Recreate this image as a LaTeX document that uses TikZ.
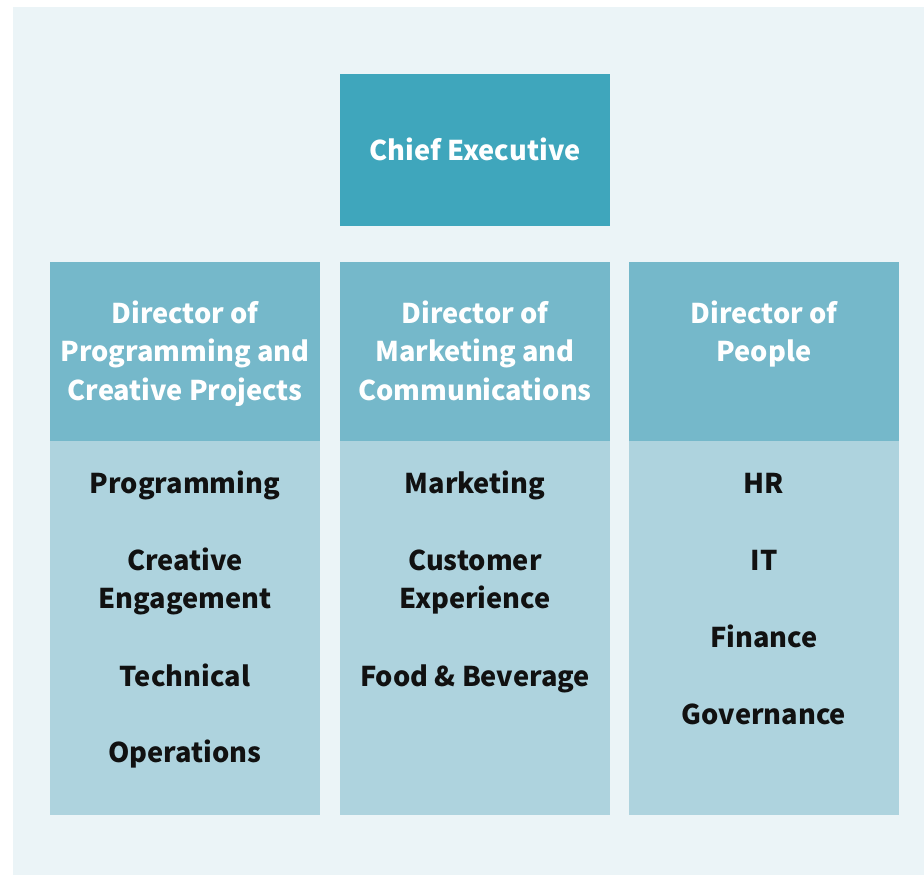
\documentclass[tikz,border=0pt]{standalone}
\usepackage{fontspec}
\setmainfont{Noto Sans CJK SC}
\definecolor{bgpanel}{HTML}{EBF4F7}
\definecolor{chiefc}{HTML}{3FA6BC}
\definecolor{headc}{HTML}{75B8CA}
\definecolor{bodyc}{HTML}{AED3DE}
\definecolor{txtdark}{HTML}{111111}
\begin{document}
\begin{tikzpicture}[x=1pt,y=-1pt,
  boxbase/.style={draw=none,inner sep=0pt,minimum width=270pt,anchor=north west},
  chiefbox/.style={boxbase,fill=chiefc,minimum height=152pt},
  headbox/.style={boxbase,fill=headc,minimum height=179pt},
  bodybox/.style={boxbase,fill=bodyc,minimum height=374pt},
  whitetxt/.style={anchor=base,inner sep=0pt,text=white,font=\fontsize{27.2}{32}\selectfont\bfseries},
  darktxt/.style={anchor=base,inner sep=0pt,text=txtdark,font=\fontsize{27.2}{32}\selectfont\bfseries}]
\useasboundingbox (0,0) rectangle (924,875);
\fill[white] (0,0) rectangle (924,875);
\fill[bgpanel] (13,7) rectangle (924,875);
% boxes
\node[chiefbox] (chief) at (340,74) {};
\node[headbox] (h1) at (50,262) {};
\node[headbox] (h2) at (340,262) {};
\node[headbox] (h3) at (629,262) {};
\node[bodybox] (b1) at (50,441) {};
\node[bodybox] (b2) at (340,441) {};
\node[bodybox] (b3) at (629,441) {};
% chief
\node[whitetxt] (tchief) at (475,160) {Chief Executive};
% headers
\node[whitetxt] (t1a) at (185,323) {Director of};
\node[whitetxt] (t1b) at (185,361.5) {Programming and};
\node[whitetxt] (t1c) at (185,400) {Creative Projects};
\node[whitetxt] (t2a) at (475,323) {Director of};
\node[whitetxt] (t2b) at (475,361.5) {Marketing and};
\node[whitetxt] (t2c) at (475,400) {Communications};
\node[whitetxt] (t3a) at (764,323) {Director of};
\node[whitetxt] (t3b) at (764,361.5) {People};
% column 1
\node[darktxt] (p1) at (185,493) {Programming};
\node[darktxt] (p2) at (185,570) {Creative};
\node[darktxt] (p3) at (185,608.5) {Engagement};
\node[darktxt] (p4) at (185,686) {Technical};
\node[darktxt] (p5) at (185,762) {Operations};
% column 2
\node[darktxt] (m1) at (475,493) {Marketing};
\node[darktxt] (m2) at (475,570) {Customer};
\node[darktxt] (m3) at (475,608.5) {Experience};
\node[darktxt] (m4) at (475,686) {Food \& Beverage};
% column 3
\node[darktxt] (q1) at (764,493) {HR};
\node[darktxt] (q2) at (764,570) {IT};
\node[darktxt] (q3) at (764,647) {Finance};
\node[darktxt] (q4) at (764,724) {Governance};
\end{tikzpicture}
\end{document}
